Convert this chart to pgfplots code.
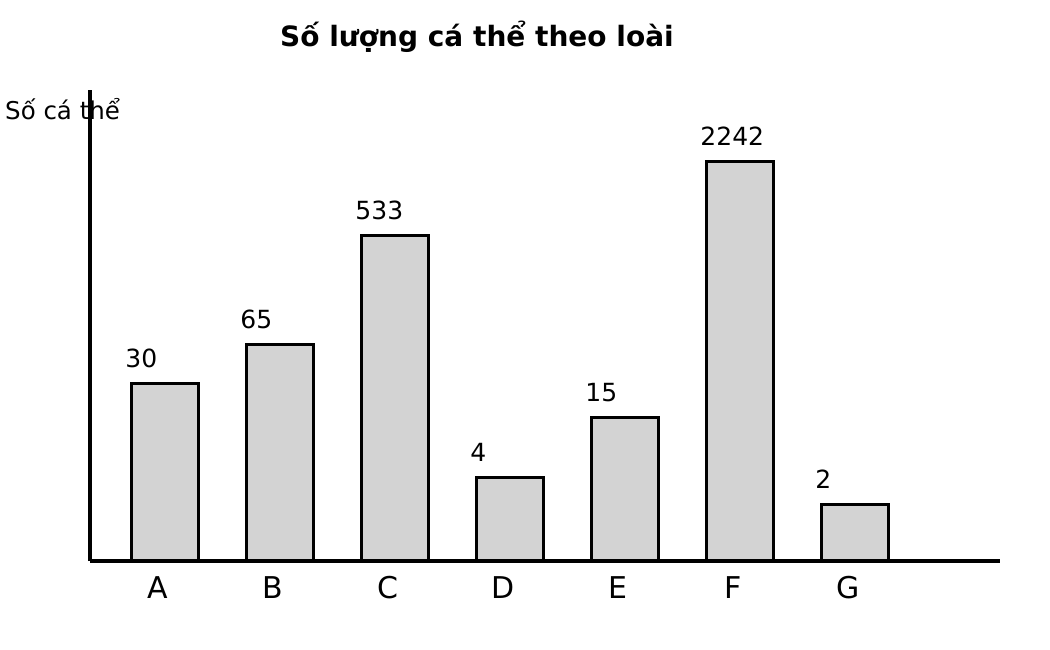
\documentclass[border=0pt]{standalone}
\usepackage{fontspec}
\setmainfont{DejaVu Sans}
\usepackage{pgfplots}
\pgfplotsset{compat=1.18}

\definecolor{barfill}{RGB}{211,211,211}

\begin{document}
\begin{tikzpicture}
\useasboundingbox (0,0) rectangle (1050bp,650bp);

% title and y label sit outside the axis, placed by hand
\node[anchor=base, font=\bfseries\fontsize{28bp}{33bp}\selectfont, inner sep=0pt]
  at (477bp,603bp) {Số lượng cá thể theo loài};
\node[anchor=base west, font=\fontsize{24.5bp}{29bp}\selectfont, inner sep=0pt]
  at (5bp,530bp) {Số cá thể};

\begin{axis}[
    at={(90bp,89bp)}, anchor=south west,
    scale only axis,
    width=910bp, height=471bp,
    xmin=-0.652, xmax=7.261,
    ymin=0, ymax=3.95,
    axis x line=bottom, axis y line=left,
    axis line style={-, line width=3.5bp, black},
    xtick={0,1,2,3,4,5,6},
    xticklabels={A,B,C,D,E,F,G},
    ytick=\empty,
    major tick length=0pt,
    xticklabel style={font=\fontsize{30bp}{35bp}\selectfont, anchor=base, yshift=-37bp, xshift=-7bp},
    % heights follow log10(n+1)
    y filter/.code={\pgfmathparse{log10(\pgfmathresult+1)}},
    point meta=explicit symbolic,
    nodes near coords={\pgfplotspointmeta},
    every node near coord/.append style={font=\fontsize{25bp}{30bp}\selectfont,
        anchor=base west, inner sep=0pt, xshift=-41bp, yshift=16bp},
    clip=false,
]
\addplot[ybar, bar width=0.59, bar shift=0pt, fill=barfill, draw=black, line width=3bp]
  coordinates {
    (0,30) [30]
    (1,65) [65]
    (2,533) [533]
    (3,4) [4]
    (4,15) [15]
    (5,2242) [2242]
    (6,2) [2]
  };
\end{axis}
\end{tikzpicture}
\end{document}
